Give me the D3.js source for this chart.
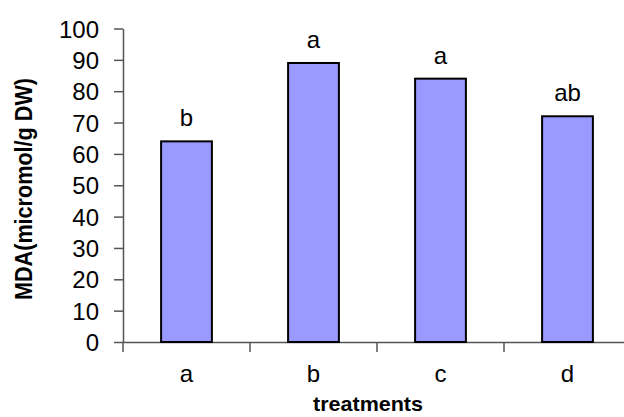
<!DOCTYPE html>
<html>
<head>
<meta charset="utf-8">
<script src="https://cdn.jsdelivr.net/npm/d3@7"></script>
<style>
  body { margin: 0; background: #fff; }
  text { font-family: "Liberation Sans", Arial, sans-serif; fill: #000; }
</style>
</head>
<body>
<div id="chart"></div>
<script>
const categories = ["a", "b", "c", "d"];
const values = [64, 89, 84, 72];
const letters = ["b", "a", "a", "ab"];
const yTicks = [0, 10, 20, 30, 40, 50, 60, 70, 80, 90, 100];

const width = 624;
const height = 417;
const axisColour = "#555";

const svg = d3
  .select("#chart")
  .append("svg")
  .attr("width", width)
  .attr("height", height);

const xScale = d3.scaleBand().domain(categories).range([123, 631]);
const yScale = d3.scaleLinear().domain([0, 100]).range([342, 28.5]);
const barWidth = xScale.bandwidth() * 0.4;

// y axis
const yAxis = svg
  .append("g")
  .attr("transform", "translate(123,0)")
  .call(d3.axisLeft(yScale).tickValues(yTicks).tickSize(9).tickSizeOuter(0).tickPadding(15));
yAxis.select(".domain").attr("stroke", axisColour).attr("stroke-width", 1.5);
yAxis.selectAll(".tick line").attr("stroke", axisColour).attr("stroke-width", 1.5);
yAxis.selectAll(".tick text")
  .style("font-size", "24px")
  .attr("fill", "#000")
  .attr("dy", "0.36em");

// y axis extends below zero
svg.append("line")
  .attr("x1", 123).attr("x2", 123)
  .attr("y1", yScale(0)).attr("y2", yScale(0) + 10)
  .attr("stroke", axisColour).attr("stroke-width", 1.5);

// x axis
const xAxis = svg
  .append("g")
  .attr("transform", `translate(0,${yScale(0)})`)
  .call(d3.axisBottom(xScale).tickSize(0).tickSizeOuter(0).tickPadding(23));
xAxis.select(".domain").attr("stroke", axisColour).attr("stroke-width", 1.5);
xAxis.selectAll(".tick text").style("font-size", "24px").attr("fill", "#000");

// category boundary ticks
svg.append("g")
  .selectAll("line")
  .data(categories.slice(1))
  .enter()
  .append("line")
  .attr("x1", d => xScale(d))
  .attr("x2", d => xScale(d))
  .attr("y1", yScale(0))
  .attr("y2", yScale(0) + 10)
  .attr("stroke", axisColour)
  .attr("stroke-width", 1.5);

// bars
svg.append("g")
  .selectAll("rect")
  .data(values)
  .enter()
  .append("rect")
  .attr("x", (d, i) => xScale(categories[i]) + (xScale.bandwidth() - barWidth) / 2)
  .attr("y", d => yScale(d))
  .attr("width", barWidth)
  .attr("height", d => yScale(0) - yScale(d))
  .attr("fill", "#9999ff")
  .attr("stroke", "#000")
  .attr("stroke-width", 2);

// significance letters
svg.append("g")
  .selectAll("text")
  .data(values)
  .enter()
  .append("text")
  .attr("x", (d, i) => xScale(categories[i]) + xScale.bandwidth() / 2)
  .attr("y", d => yScale(d) - 15)
  .attr("text-anchor", "middle")
  .style("font-size", "24px")
  .text((d, i) => letters[i]);

// axis titles
svg.append("text")
  .attr("x", 368)
  .attr("y", 411)
  .attr("text-anchor", "middle")
  .style("font-size", "21px")
  .style("font-weight", "bold")
  .attr("textLength", 110)
  .attr("lengthAdjust", "spacingAndGlyphs")
  .text("treatments");

svg.append("text")
  .attr("transform", "translate(32,189) rotate(-90)")
  .attr("text-anchor", "middle")
  .style("font-size", "24px")
  .style("font-weight", "bold")
  .attr("textLength", 222)
  .attr("lengthAdjust", "spacingAndGlyphs")
  .text("MDA(micromol/g DW)");
</script>
</body>
</html>
